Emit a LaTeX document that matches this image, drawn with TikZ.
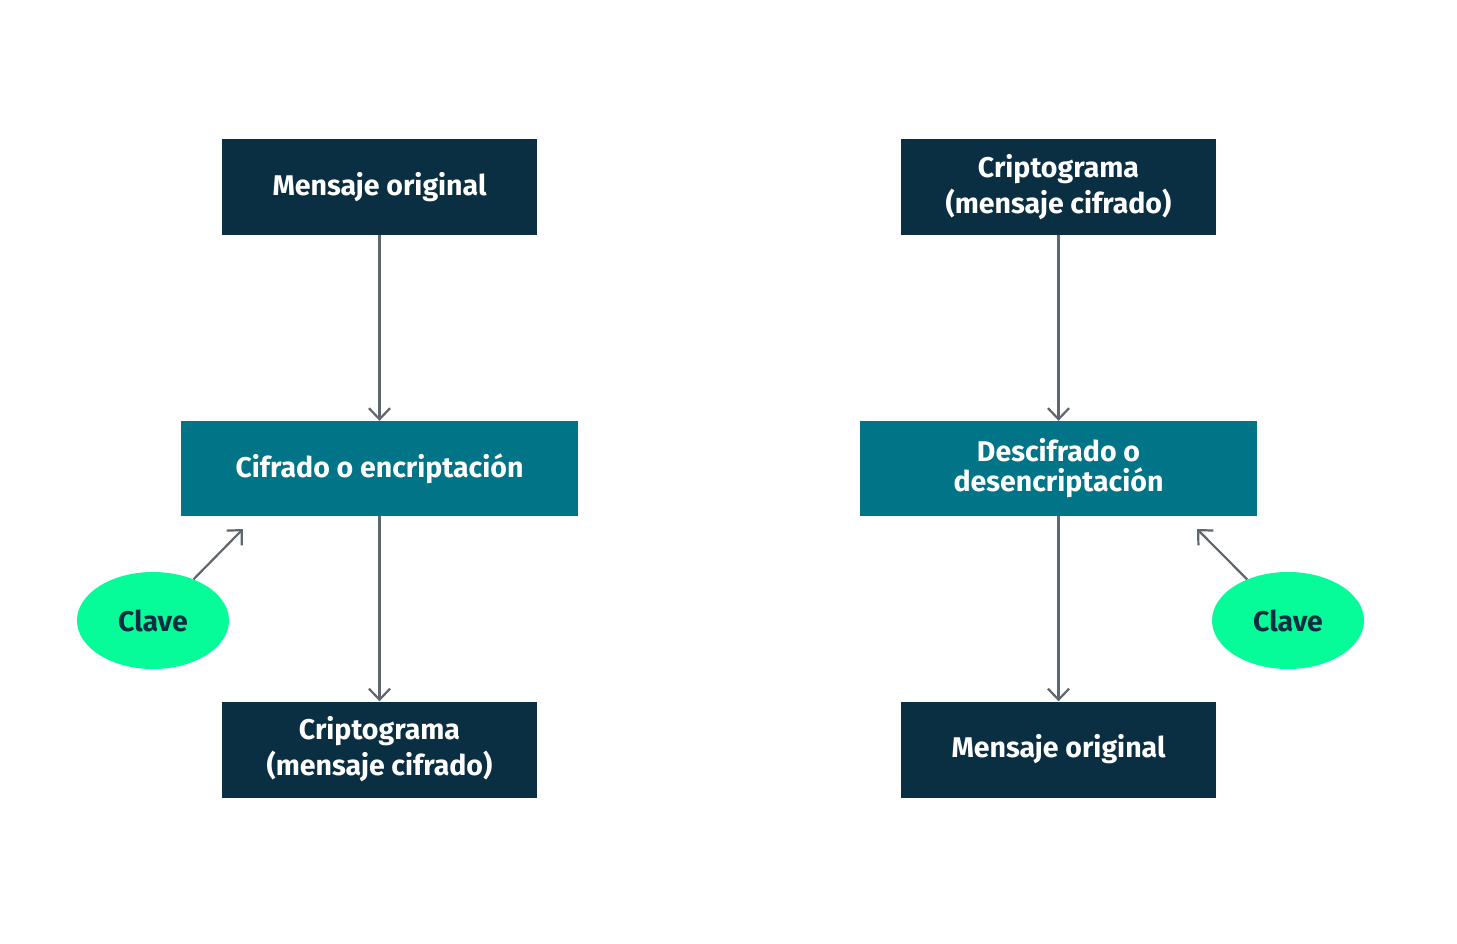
\documentclass[tikz,border=0pt]{standalone}
\usepackage{fontspec}
\setmainfont{Fira Sans}
\usepackage{tikz}
\usetikzlibrary{arrows.meta,shapes.geometric}
\definecolor{navy}{HTML}{0B2F42}
\definecolor{teal}{HTML}{017487}
\definecolor{keygreen}{HTML}{05FC98}
\definecolor{arrowgray}{HTML}{5E666E}
\tikzset{
  msg/.style={fill=navy, text=white, minimum width=315pt, minimum height=96pt, align=center, inner sep=0pt, font=\fontsize{28.5}{31}\selectfont\bfseries},
  proc/.style={fill=teal, text=white, minimum width=397pt, minimum height=95pt, align=center, inner sep=0pt, font=\fontsize{28.5}{30}\selectfont\bfseries},
  keyell/.style={ellipse, fill=keygreen, text=navy, minimum width=152pt, minimum height=97pt, inner sep=0pt, font=\fontsize{28.5}{30}\selectfont\bfseries},
  flow/.style={draw=arrowgray, line width=2.2pt, -{Straight Barb[length=11pt,width=21pt,line width=2.2pt]}}
}
\begin{document}
\begin{tikzpicture}[x=1pt,y=-1pt]
  \useasboundingbox (0,0) rectangle (1457,943);
  % cifrado
  \node[msg] (msgA) at (379.5,187) {Mensaje original};
  \node[proc] (encr) at (379.5,468.5) {Cifrado o encriptación};
  \node[msg] (cripA) at (379.5,749.5) {Criptograma\\[5pt](mensaje cifrado)};
  \node[keyell] (keyA) at (153,620.5) {Clave};
  \coordinate (tipA) at (243,529);
  \draw[flow] (msgA) -- (encr);
  \draw[flow] (encr) -- (cripA);
  \draw[flow] (keyA) -- (tipA);
  % descifrado
  \node[msg] (cripB) at (1058.5,187) {Criptograma\\[5pt](mensaje cifrado)};
  \node[proc] (decr) at (1058.5,468.5) {Descifrado o\\desencriptación};
  \node[msg] (msgB) at (1058.5,749.5) {Mensaje original};
  \node[keyell] (keyB) at (1288,620.5) {Clave};
  \coordinate (tipB) at (1197,529);
  \draw[flow] (cripB) -- (decr);
  \draw[flow] (decr) -- (msgB);
  \draw[flow] (keyB) -- (tipB);
\end{tikzpicture}
\end{document}
